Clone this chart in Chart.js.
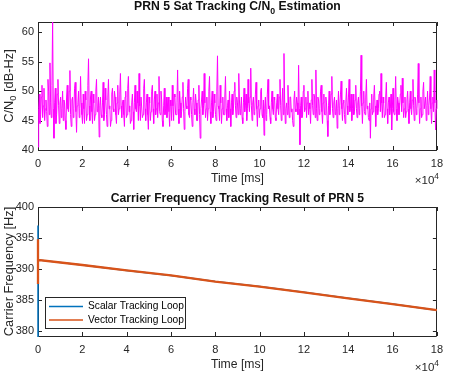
<!DOCTYPE html>
<html>
<head>
<meta charset="utf-8">
<script src="https://cdn.jsdelivr.net/npm/chart.js@4/dist/chart.umd.min.js"></script>
<style>
  html, body { margin: 0; padding: 0; background: #fff; }
  #wrap { position: relative; width: 450px; height: 373px; }
  canvas { position: absolute; left: 0; }
  #c1 { top: 0; }
  #c2 { top: 186px; }
</style>
</head>
<body>
<div id="wrap">
  <canvas id="c1" width="450" height="186"></canvas>
  <canvas id="c2" width="450" height="187"></canvas>
</div>
<script>
// ---------- DATA ----------
const cn0EndMs = 180000; // the C/N0 series spans 0 .. 180000 ms, evenly sampled
const cn0Values = [
  40.5, 47, 49.5, 44.5, 46, 49, 51, 45.5, 47.5, 50.5, 45, 47, 48.5, 46.5, 44, 52, 50, 46, 54.8, 48, 45.5, 51, 62, 47, 42, 48, 50.5, 44.5, 46, 49.5, 52, 47.5, 44.5, 48, 49, 45.5, 47, 50, 45, 48.5,
  48, 45, 43.5, 49, 51, 47, 46.5, 50, 53.5, 46, 44, 48.5, 49, 45.5, 47, 50.5, 51.5, 46.5, 43, 47.5, 48, 50, 45.5, 47, 52.5, 48, 46, 44.5, 49.5, 47, 44.5, 50, 48.5, 45, 46, 51, 55.5, 47.5, 45, 49,
  50, 46.5, 44.5, 49.5, 48, 45, 46, 50, 52, 46.5, 47, 49, 42.2, 47.5, 49, 46, 45.5, 48, 51.5, 45, 46, 50.5, 48.5, 46, 44, 49, 52, 47, 47.5, 44, 45, 49.5, 50.5, 47, 46.5, 50, 49, 46, 44.5, 48,
  51, 46, 47, 49.5, 53, 47.5, 45.5, 48, 48.5, 46, 44, 49, 50, 45.5, 46, 50.5, 52.5, 46.5, 47.5, 44.5, 45, 48, 49.5, 46.5, 43.5, 48, 51, 47, 46.5, 50, 48, 45, 53, 47.5, 45, 49, 49, 45.5, 46, 50.5,
  52, 47, 45, 48, 49.5, 46, 43.5, 49, 48, 45, 46.5, 50, 51, 47, 44.5, 48.5, 50, 46, 47, 49.5, 45.5, 48, 52.5, 46.5, 46, 50, 48.5, 45, 44, 47.5, 50.5, 46, 47, 49, 45.5, 48, 49, 46.5, 44, 48.5,
  47.5, 45, 51, 47.5, 45, 49.5, 49, 46, 46, 48, 53.6, 47, 44.5, 50, 48, 45.5, 46.5, 49, 51.5, 47, 43.5, 46.5, 49, 47.5, 47, 50.5, 52, 46, 45.5, 49, 48.5, 46, 44, 48, 50.5, 47, 46, 49.5, 48, 45,
  45, 48.5, 51, 46, 42, 47, 48.5, 50, 46, 47.5, 53, 48, 45.5, 47, 49, 45, 47, 50, 52.5, 46.5, 44.5, 48, 50, 45.5, 46.5, 49.5, 48, 46, 45, 50, 56, 47.5, 47, 45, 51, 48, 44.5, 47, 49, 46,
  46, 49, 52.5, 47, 45, 47.5, 48.5, 45.5, 50, 47, 44, 48, 49.5, 46, 47, 50, 51.5, 47.5, 45.5, 49, 48, 46, 53, 48.5, 46, 47, 49, 45.5, 44.5, 48, 50.5, 46.5, 47.5, 49.5, 45, 47, 52, 48, 46.5, 49,
  53.9, 47.5, 45, 48, 49, 46, 46.5, 49.5, 51.5, 47, 44, 47.5, 48.5, 45.5, 47, 50, 50.5, 46, 45.5, 48.5, 42.5, 47, 49, 45, 46, 49.5, 52, 47, 47.5, 45.5, 44.5, 48, 50, 47, 46, 49, 48.5, 45.5, 45, 48,
  49.5, 47, 46, 49, 52, 47.5, 45, 48, 50.5, 46, 56.4, 48.5, 44.5, 47, 48, 46, 51, 47.5, 45.5, 49, 49, 46.5, 47, 45, 44, 48.5, 50, 47, 46.5, 49, 48, 46, 54.4, 47, 40.9, 47.5, 49, 45.5, 46, 50,
  51, 46.5, 47, 49, 45.5, 48, 50, 46, 48, 47, 44.5, 48.5, 52, 47.5, 46, 49.5, 49, 45.5, 53.6, 47, 45, 49, 48.5, 46, 47, 50, 51, 46.5, 44.5, 48, 49.5, 46, 46, 49, 48, 45, 42.3, 47.5, 50, 46,
  47, 49.5, 52.5, 47, 45.5, 48, 49, 46, 46.5, 48.5, 43.7, 47, 50, 46, 47.5, 49.5, 51.7, 47, 45, 48, 48.5, 46, 44.5, 48, 50.5, 47.5, 46, 49, 52, 46.5, 47, 49.5, 45, 47, 49.5, 46, 46.5, 48.5, 51, 47,
  45.5, 48, 49, 46, 47, 50, 56.1, 47.5, 44.5, 48, 50, 46.5, 46, 49, 52, 47, 47.5, 45.5, 45, 48, 42, 47, 49.5, 46, 46.5, 49, 51, 47.5, 44, 47, 48.5, 46, 47, 49.5, 50, 46.5, 53, 48, 45.5, 49,
  48, 45.5, 46, 49, 51.5, 47, 44.5, 48, 49, 46, 47, 49.5, 43.4, 47, 50.5, 46.5, 46, 48.5, 52.5, 47, 45, 49, 48, 46, 47.5, 49.5, 51, 46.5, 52.2, 48, 45.5, 47, 49, 45.5, 46.5, 48.5, 50, 47, 44.5, 48,
  50, 47, 46, 48.5, 52, 47.5, 45, 49, 48.5, 46, 47, 49.5, 54.7, 48, 44.5, 47, 49, 45.5, 46, 50, 51.5, 47, 47, 49, 45, 47.5, 50, 46, 47.5, 49, 52.5, 47, 44.5, 48, 49, 46.5, 53.6, 48, 43.4, 47, 48.5
];
const freqTimeMs   = [0, 0, 0, 20000, 40000, 60000, 80000, 100000, 120000, 140000, 160000, 180000];
const scalarFreqHz = [379, 397, 391.47, 390.65, 389.77, 388.96, 387.98, 387.17, 386.25, 385.27, 384.35, 383.37];
const vectorFreqHz = [387.6, 394.8, 391.47, 390.65, 389.77, 388.96, 387.98, 387.17, 386.25, 385.27, 384.35, 383.37];
const xTickValues  = [0, 20000, 40000, 60000, 80000, 100000, 120000, 140000, 160000, 180000];
const cn0Ticks     = [40, 45, 50, 55, 60];
const freqTicks    = [380, 385, 390, 395, 400];
const seriesLabels = ['Scalar Tracking Loop', 'Vector Tracking Loop'];

// ---------- HELPERS ----------
const FONT = '"Liberation Sans", Arial, Helvetica, sans-serif';
const AX = '#262626';

function richWidth(ctx, parts, size, bold) {
  let w = 0;
  for (const p of parts) {
    const s = p.sub || p.sup ? size * 0.72 : size;
    ctx.font = (bold ? 'bold ' : '') + s + 'px ' + FONT;
    w += ctx.measureText(p.t).width;
  }
  return w;
}
function drawRich(ctx, parts, x, y, size, bold, color, align) {
  ctx.save();
  ctx.fillStyle = color;
  ctx.textBaseline = 'middle';
  ctx.textAlign = 'left';
  const w = richWidth(ctx, parts, size, bold);
  let cx = align === 'center' ? x - w / 2 : (align === 'right' ? x - w : x);
  for (const p of parts) {
    const s = p.sub || p.sup ? size * 0.72 : size;
    ctx.font = (bold ? 'bold ' : '') + s + 'px ' + FONT;
    let dy = 0;
    if (p.sub) dy = size * 0.38;
    if (p.sup) dy = -size * 0.38;
    ctx.fillText(p.t, cx, y + dy);
    cx += ctx.measureText(p.t).width;
  }
  ctx.restore();
}

function matlabAxesPlugin(cfg) {
  return {
    id: 'matlabAxes',
    beforeDatasetsDraw(chart) {
      const ctx = chart.ctx;
      const a = chart.chartArea;
      const xs = chart.scales.x, ys = chart.scales.y;
      ctx.save();
      ctx.strokeStyle = AX;
      ctx.lineWidth = 1;
      ctx.beginPath();
      ctx.rect(Math.round(a.left) + 0.5, Math.round(a.top) + 0.5,
               Math.round(a.right - a.left) - 1, Math.round(a.bottom - a.top));
      ctx.stroke();
      const tl = 4;
      ctx.beginPath();
      for (const v of xTickValues) {
        const px = Math.round(xs.getPixelForValue(v)) + 0.5;
        ctx.moveTo(px, a.bottom); ctx.lineTo(px, a.bottom - tl);
        ctx.moveTo(px, a.top); ctx.lineTo(px, a.top + tl);
      }
      for (const v of cfg.yTicks) {
        const py = Math.round(ys.getPixelForValue(v)) + 0.5;
        ctx.moveTo(a.left, py); ctx.lineTo(a.left + tl, py);
        ctx.moveTo(a.right, py); ctx.lineTo(a.right - tl, py);
      }
      ctx.stroke();
      ctx.restore();
    },
    afterDatasetsDraw(chart) {
      const ctx = chart.ctx;
      const a = chart.chartArea;
      // title
      drawRich(ctx, cfg.title, (a.left + a.right) / 2, cfg.titleY, 12.2, true, '#111', 'center');
      // x label
      drawRich(ctx, [{t: 'Time [ms]'}], (a.left + a.right) / 2, cfg.xLabelY, 12.2, false, AX, 'center');
      // exponent
      drawRich(ctx, [{t: '\u00d710'}, {t: '4', sup: true}], a.right + 2, cfg.expY, 11.5, false, AX, 'right');
      // y label
      ctx.save();
      ctx.translate(cfg.yLabelX, (a.top + a.bottom) / 2);
      ctx.rotate(-Math.PI / 2);
      drawRich(ctx, cfg.yLabel, 0, 0, cfg.yLabelSize, false, AX, 'center');
      ctx.restore();

      // legend
      if (cfg.legend) {
        const L = cfg.legend;
        ctx.save();
        ctx.fillStyle = '#fff';
        ctx.fillRect(L.x, L.y, L.w, L.h);
        ctx.strokeStyle = AX;
        ctx.lineWidth = 1;
        ctx.strokeRect(L.x + 0.5, L.y + 0.5, L.w, L.h);
        chart.data.datasets.forEach((ds, i) => {
          const ry = L.y + L.rows[i];
          ctx.strokeStyle = ds.borderColor;
          ctx.lineWidth = 1.5;
          ctx.beginPath();
          ctx.moveTo(L.x + 4, ry); ctx.lineTo(L.x + 38, ry);
          ctx.stroke();
          drawRich(ctx, [{t: ds.label}], L.x + 43, ry, 10.2, false, '#000', 'left');
        });
        ctx.restore();
      }
    }
  };
}

function baseOptions(yMin, yMax, yTicks, topPad, xHeight) {
  return {
    responsive: false,
    devicePixelRatio: 1,
    animation: false,
    parsing: false,
    normalized: true,
    layout: { padding: { top: topPad, right: 8, left: 0, bottom: 0 } },
    plugins: { legend: { display: false }, title: { display: false }, tooltip: { enabled: false } },
    elements: { point: { radius: 0 }, line: { tension: 0 } },
    scales: {
      x: {
        type: 'linear', min: 0, max: 180000,
        afterBuildTicks: s => { s.ticks = xTickValues.map(v => ({ value: v })); },
        afterFit: s => { s.height = xHeight; },
        grid: { display: false, drawTicks: false },
        border: { display: false },
        ticks: { color: AX, padding: 7, maxRotation: 0, autoSkip: false,
                 font: { family: FONT, size: 11 },
                 callback: v => String(v / 10000) }
      },
      y: {
        type: 'linear', min: yMin, max: yMax,
        afterBuildTicks: s => { s.ticks = yTicks.map(v => ({ value: v })); },
        afterFit: s => { s.width = 38; },
        grid: { display: false, drawTicks: false },
        border: { display: false },
        ticks: { color: AX, padding: 4, autoSkip: false,
                 font: { family: FONT, size: 11 } }
      }
    }
  };
}

// ---------- TOP CHART ----------
const cn0Step = cn0EndMs / (cn0Values.length - 1);
const cn0Points = cn0Values.map((v, i) => ({ x: i * cn0Step, y: v }));
new Chart(document.getElementById('c1'), {
  type: 'line',
  data: { datasets: [{
    label: 'C/N0', data: cn0Points, borderColor: '#ff00ff', borderWidth: 1, fill: false,
    clip: { left: 1, top: 0, right: 1, bottom: 1 }
  }] },
  options: baseOptions(40, 61.75, cn0Ticks, 22, 36),
  plugins: [matlabAxesPlugin({
    yTicks: cn0Ticks,
    title: [{t: 'PRN 5 Sat Tracking C/N'}, {t: '0', sub: true}, {t: ' Estimation'}],
    titleY: 7,
    xLabelY: 179,
    expY: 181,
    yLabelX: 9,
    yLabelSize: 12.8,
    yLabel: [{t: 'C/N'}, {t: '0', sub: true}, {t: ' [dB-Hz]'}]
  })]
});

// ---------- BOTTOM CHART ----------
new Chart(document.getElementById('c2'), {
  type: 'line',
  data: { datasets: [
    { label: seriesLabels[0], data: freqTimeMs.map((t, i) => ({ x: t, y: scalarFreqHz[i] })),
      borderColor: '#0072bd', borderWidth: 1.5, fill: false, order: 2,
      clip: { left: 2, top: 0, right: 0, bottom: 1 } },
    { label: seriesLabels[1], data: freqTimeMs.map((t, i) => ({ x: t, y: vectorFreqHz[i] })),
      borderColor: '#d95319', borderWidth: 2.3, fill: false, order: 1,
      clip: { left: 2, top: 0, right: 0, bottom: 1 } }
  ] },
  options: baseOptions(379.2, 400, freqTicks, 21, 37),
  plugins: [matlabAxesPlugin({
    yTicks: freqTicks,
    title: [{t: 'Carrier Frequency Tracking Result of PRN 5'}],
    titleY: 13,
    xLabelY: 179,
    expY: 182,
    yLabelX: 9,
    yLabelSize: 12.8,
    yLabel: [{t: 'Carrier Frequency [Hz]'}],
    legend: { x: 45, y: 111, w: 140, h: 31, rows: [9.5, 23] }
  })]
});
</script>
</body>
</html>
